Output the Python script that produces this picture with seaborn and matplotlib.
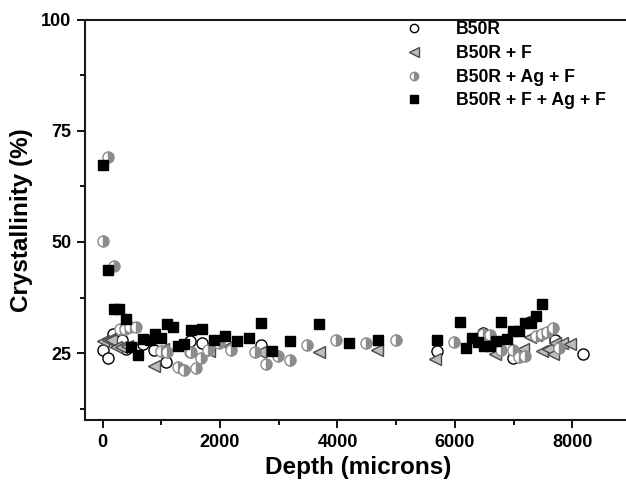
import numpy as np
import matplotlib
matplotlib.use('Agg')
import matplotlib.pyplot as plt
import seaborn as sns

# B50R (open circles)
b50r_x = [0, 90, 175, 260, 330, 400, 680, 870, 1085, 1480, 1690, 2690, 5690, 6480, 6990, 7280, 7700, 8180]
b50r_y = [25.7, 24.0, 29.3, 28.5, 28.0, 25.9, 27.0, 25.7, 23.0, 27.8, 27.4, 26.9, 25.4, 29.6, 24.0, 32.0, 28.0, 24.8]

# B50R + F (left triangles)
f_x = [0, 90, 140, 230, 310, 420, 870, 1030, 1820, 2150, 2680, 3690, 4680, 5670, 6680, 7080, 7160, 7280, 7390, 7480,
       7580, 7670, 7700, 7820, 7960]
f_y = [27.8, 27.9, 28.0, 26.4, 26.5, 26.6, 22.1, 26.0, 25.5, 26.6, 25.2, 25.2, 25.7, 23.8, 24.8, 25.3, 25.9, 28.7, 29.0, 25.5,
       25.9, 24.8, 27.3, 27.3, 27.0]

# B50R + Ag + F (half filled circles)
agf_x = [0, 90, 190, 290, 375, 460, 575, 1000, 1100, 1280, 1390, 1480, 1510, 1590, 1680, 1800, 1990, 2190, 2590, 2790,
         2990, 3190, 3480, 3980, 4490, 4990, 5990, 6480, 6590, 6790, 6990, 7090, 7190, 7390, 7480, 7570, 7670, 7780]
agf_y = [50.3, 69.0, 44.6, 30.4, 30.4, 30.8, 30.9, 25.5, 25.2, 21.9, 21.2, 25.2, 25.2, 21.7, 23.9, 25.8, 27.4, 25.7, 25.2, 22.5,
         24.4, 23.5, 26.8, 28.0, 27.4, 27.9, 27.6, 29.3, 29.1, 25.7, 25.8, 24.1, 24.3, 28.9, 29.3, 29.8, 30.6, 26.1]

# B50R + F + Ag + F (filled squares)
fagf_x = [0, 90, 190, 280, 390, 490, 600, 680, 800, 890, 990, 1100, 1200, 1280, 1390, 1500, 1690, 1890, 2090, 2290,
          2490, 2690, 2890, 3190, 3690, 4190, 4690, 5690, 6090, 6190, 6290, 6390, 6490, 6590, 6700, 6790, 6890, 6990,
          7090, 7190, 7290, 7390, 7480]
fagf_y = [67.3, 43.8, 35.0, 35.0, 32.7, 26.3, 24.6, 28.1, 28.0, 29.3, 28.4, 31.5, 30.8, 26.6, 27.0, 30.2, 30.5, 27.9, 28.9, 27.8,
          28.4, 31.8, 25.5, 27.8, 31.5, 27.2, 28.0, 27.9, 32.1, 26.1, 28.4, 27.6, 26.7, 26.6, 27.8, 32.0, 28.2, 30.1,
          30.1, 31.7, 31.9, 33.4, 36.1]

sns.set_style('ticks')
plt.rcParams['font.family'] = ['Liberation Sans', 'DejaVu Sans']
plt.rcParams['font.weight'] = 'bold'
for k in ['text.color', 'axes.labelcolor', 'xtick.color', 'ytick.color']:
    plt.rcParams[k] = 'black'

fig = plt.figure(figsize=(6.26, 4.84), dpi=100)
ax = fig.add_axes([85 / 626, 64 / 484, 546 / 626, 400.5 / 484])

common = dict(estimator=None, sort=False, linestyle='none', ax=ax, markeredgewidth=1.0)
sns.lineplot(x=b50r_x, y=b50r_y, marker='o', markersize=8, color='black', markerfacecolor='white',
             markeredgecolor='black', label='B50R', **common)
sns.lineplot(x=f_x, y=f_y, marker='<', markersize=9, color='#bdbdbd', markerfacecolor='#bdbdbd',
             markeredgecolor='#4a4a4a', label='B50R + F', **common)
sns.lineplot(x=agf_x, y=agf_y, marker='o', markersize=8, color='#8c8c8c', markerfacecolor='#8c8c8c',
             markerfacecoloralt='white', fillstyle='right', markeredgecolor='#8c8c8c',
             label='B50R + Ag + F', **common)
sns.lineplot(x=fagf_x, y=fagf_y, marker='s', markersize=7.5, color='black', markerfacecolor='black',
             markeredgecolor='black', label='B50R + F + Ag + F', **common)

ax.set_xlim(-300, 9000)
ax.set_ylim(10, 100)
ax.set_xticks([0, 2000, 4000, 6000, 8000])
ax.set_xticks([1000, 3000, 5000, 7000], minor=True)
ax.set_yticks([25, 50, 75, 100])
ax.set_yticks([12.5, 37.5, 62.5, 87.5], minor=True)
ax.tick_params(which='major', direction='out', length=6, width=1.3, labelsize=13, pad=4)
ax.tick_params(which='minor', direction='out', length=3.5, width=1.3)
for lab in ax.get_xticklabels() + ax.get_yticklabels():
    lab.set_fontweight('bold')
for s in ['left', 'bottom', 'top']:
    ax.spines[s].set_linewidth(1.5)
    ax.spines[s].set_color('#1a1a1a')
ax.spines['right'].set_visible(False)

ax.set_xlabel('Depth (microns)', fontsize=17.5, fontweight='bold', labelpad=4)
ax.set_ylabel('Crystallinity (%)', fontsize=17.5, fontweight='bold', labelpad=6)

leg = ax.legend(loc='upper left', bbox_to_anchor=(0.55, 1.022), frameon=False, fontsize=12.7,
                handletextpad=1.4, labelspacing=0.38, borderaxespad=0.2, markerscale=0.75)
for t in leg.get_texts():
    t.set_fontweight('bold')

fig.savefig('out.png', dpi=100)
